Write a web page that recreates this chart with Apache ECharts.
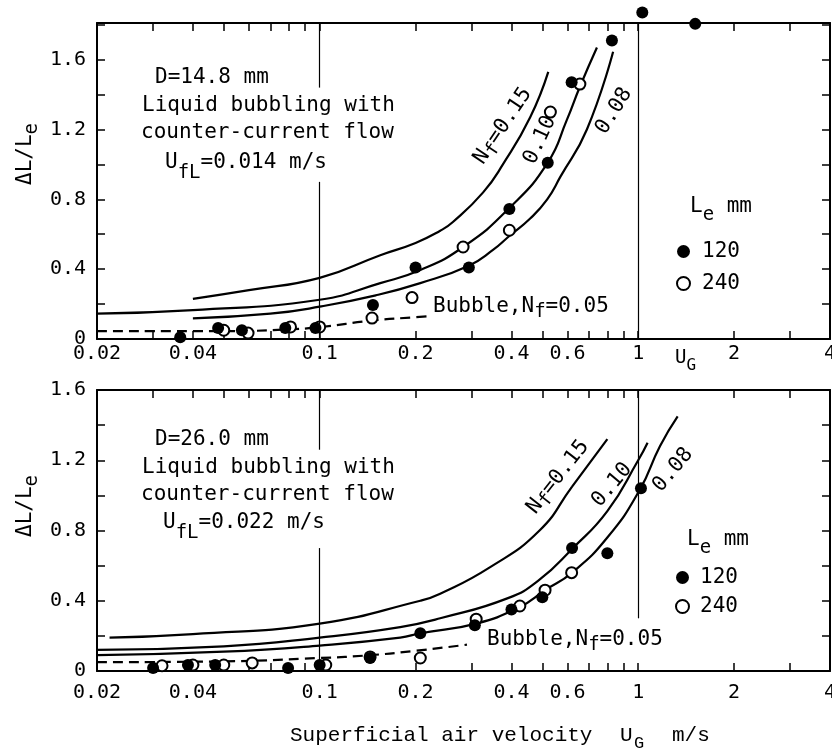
<!DOCTYPE html>
<html>
<head>
<meta charset="utf-8">
<script src="https://cdn.jsdelivr.net/npm/echarts@6/dist/echarts.min.js"></script>
<style>
  html, body { margin: 0; padding: 0; background: #fff; }
  #chart { width: 832px; height: 750px; }
</style>
</head>
<body>
<div id="chart"></div>
<script>
// values: x = U_G (m/s), y = dL/Le

// upper panel, D = 14.8 mm
var topNf15X = [0.04, 0.06, 0.1, 0.155, 0.2, 0.239, 0.262, 0.326, 0.376, 0.458, 0.522];
var topNf15Y = [0.23, 0.28, 0.35, 0.48, 0.55, 0.62, 0.67, 0.84, 1.0, 1.27, 1.53];
var topNf10X = [0.02, 0.04, 0.1, 0.155, 0.207, 0.282, 0.394, 0.52, 0.597, 0.656, 0.742];
var topNf10Y = [0.145, 0.165, 0.225, 0.32, 0.395, 0.527, 0.75, 1.01, 1.255, 1.445, 1.67];
var topNf08X = [0.04, 0.07, 0.1, 0.15, 0.207, 0.294, 0.35, 0.394, 0.458, 0.518, 0.57, 0.69, 0.834];
var topNf08Y = [0.118, 0.145, 0.185, 0.25, 0.32, 0.42, 0.51, 0.59, 0.69, 0.80, 0.93, 1.20, 1.645];
var topBubbleX = [0.02, 0.05, 0.08, 0.1, 0.146, 0.2, 0.22];
var topBubbleY = [0.045, 0.045, 0.055, 0.068, 0.105, 0.125, 0.13];
var top120X = [0.0365, 0.048, 0.057, 0.078, 0.097, 0.147, 0.2, 0.294, 0.394, 0.52, 0.618, 0.827, 1.03, 1.51];
var top120Y = [0.01, 0.063, 0.05, 0.063, 0.063, 0.195, 0.41, 0.41, 0.745, 1.01, 1.47, 1.71, 1.87, 1.805];
var top240X = [0.05, 0.0596, 0.081, 0.1, 0.146, 0.195, 0.282, 0.394, 0.53, 0.656];
var top240Y = [0.05, 0.034, 0.069, 0.069, 0.12, 0.237, 0.527, 0.623, 1.30, 1.46];

// lower panel, D = 26.0 mm
var botNf15X = [0.0219, 0.04, 0.1, 0.207, 0.239, 0.342, 0.49, 0.62, 0.80];
var botNf15Y = [0.19, 0.21, 0.27, 0.40, 0.44, 0.59, 0.80, 1.05, 1.32];
var botNf10X = [0.02, 0.05, 0.1, 0.179, 0.239, 0.39, 0.49, 0.62, 0.8, 1.0, 1.07];
var botNf10Y = [0.12, 0.14, 0.19, 0.25, 0.30, 0.415, 0.52, 0.695, 0.91, 1.2, 1.30];
var botNf08X = [0.02, 0.05, 0.1, 0.179, 0.207, 0.31, 0.425, 0.51, 0.62, 0.80, 1.01, 1.17, 1.33];
var botNf08Y = [0.09, 0.11, 0.145, 0.19, 0.215, 0.27, 0.365, 0.46, 0.56, 0.76, 1.03, 1.28, 1.45];
var botBubbleX = [0.02, 0.05, 0.1, 0.144, 0.2, 0.29];
var botBubbleY = [0.05, 0.055, 0.074, 0.09, 0.115, 0.15];
var bot120X = [0.03, 0.0386, 0.047, 0.0796, 0.1, 0.144, 0.207, 0.307, 0.40, 0.50, 0.62, 0.80, 1.02];
var bot120Y = [0.017, 0.034, 0.034, 0.017, 0.034, 0.074, 0.215, 0.26, 0.35, 0.42, 0.70, 0.67, 1.04];
var bot240X = [0.032, 0.040, 0.05, 0.0614, 0.1045, 0.144, 0.207, 0.31, 0.425, 0.51, 0.618];
var bot240Y = [0.03, 0.034, 0.034, 0.046, 0.034, 0.08, 0.074, 0.295, 0.37, 0.46, 0.56];

// axis ticks / labels
var xTickVals = [0.02, 0.03, 0.04, 0.05, 0.06, 0.07, 0.08, 0.09, 0.1, 0.2, 0.3, 0.4, 0.5, 0.6, 0.7, 0.8, 0.9, 1, 2, 3, 4];
var xLabelVals = [0.02, 0.04, 0.1, 0.2, 0.4, 0.6, 1, 2, 4];
var topYMax = 1.81, botYMax = 1.6;

var MONO = 'DejaVu Sans Mono';
var COURIER = 'Liberation Mono';

function pairs(xs, ys) {
  return xs.map(function (x, i) { return [x, ys[i]]; });
}

function xAxisFor(grid, pos, margin) {
  return {
    type: 'log', gridIndex: grid, position: pos, min: 0.02, max: 4,
    axisLine: { show: true, onZero: false, lineStyle: { color: '#000', width: 2 } },
    axisTick: { show: true, inside: true, length: 8, customValues: xTickVals, lineStyle: { color: '#000', width: 1.5 } },
    axisLabel: {
      show: pos === 'bottom', customValues: xLabelVals, margin: margin, hideOverlap: false,
      color: '#000', fontFamily: MONO, fontSize: 20,
      formatter: function (v) { return String(+(+v).toPrecision(3)); }
    },
    splitLine: { show: false }
  };
}

function yAxisFor(grid, pos, max) {
  return {
    type: 'value', gridIndex: grid, position: pos, min: 0, max: max, interval: 0.2,
    axisLine: { show: true, onZero: false, lineStyle: { color: '#000', width: 2 } },
    axisTick: { show: true, inside: true, length: 8, lineStyle: { color: '#000', width: 1.5 } },
    axisLabel: {
      show: pos === 'left', margin: 11, color: '#000', fontFamily: MONO, fontSize: 20,
      formatter: function (v) { return Math.round(v * 10) % 4 === 0 ? String(+v.toFixed(1)) : ''; }
    },
    splitLine: { show: false }
  };
}

function curve(g, xs, ys, dashed, marks) {
  var s = {
    type: 'line', xAxisIndex: g * 2, yAxisIndex: g * 2, data: pairs(xs, ys),
    smooth: 0.5, showSymbol: false, symbol: 'none', silent: true, z: 2,
    lineStyle: { color: '#000', width: 2.2, type: dashed ? [10, 6] : 'solid' }
  };
  if (marks) {
    s.markLine = {
      silent: true, symbol: 'none', label: { show: false },
      lineStyle: { color: '#000', width: 1.2, type: 'solid' },
      data: marks.map(function (m) { return [{ coord: m[0] }, { coord: m[1] }]; })
    };
  }
  return s;
}

function dots(g, name, xs, ys, filled) {
  return {
    type: 'scatter', name: name, xAxisIndex: g * 2, yAxisIndex: g * 2, data: pairs(xs, ys),
    symbol: 'circle', symbolSize: filled ? 12 : 11, clip: false, z: filled ? 4 : 3,
    itemStyle: filled ? { color: '#000', opacity: 1 } : { color: '#fff', borderColor: '#000', borderWidth: 2, opacity: 1 }
  };
}

// text helpers: parts = [text, fontSize, dy]
function txt(x, y, s, size, font) {
  return { type: 'text', x: x, y: y, silent: true,
    style: { text: s, fontFamily: font || MONO, fontSize: size || 21, fill: '#000', verticalAlign: 'middle', align: 'left' } };
}
function run(x, y, parts, deg, centered, font) {
  var cw = font === COURIER ? 0.6 : 0.602;
  var w = 0;
  parts.forEach(function (p) { w += p[0].length * cw * (p[1] || 21); });
  var cx = centered ? -w / 2 : 0, kids = [];
  parts.forEach(function (p) {
    var size = p[1] || 21;
    kids.push(txt(cx, p[2] || 0, p[0], size, font));
    cx += p[0].length * cw * size;
  });
  return { type: 'group', x: x, y: y, rotation: (deg || 0) * Math.PI / 180, children: kids };
}

var graphics = [
  // upper panel notes
  txt(155, 78, 'D=14.8 mm'),
  txt(142, 106, 'Liquid bubbling with'),
  txt(141, 133, 'counter-current flow'),
  run(165, 163, [['U'], ['fL', 19, 10], ['=0.014 m/s']]),
  run(503, 126, [['N'], ['f', 19, 5], ['=0.15']], 56, true),
  run(540, 140, [['0.10']], 65, true),
  run(614, 111, [['0.08']], 58, true),
  run(433, 307, [['Bubble,N'], ['f', 19, 5], ['=0.05']]),
  run(690, 207, [['L'], ['e', 19, 8], [' mm']]),
  run(675, 358, [['U', 19], ['G', 16, 8]]),
  run(26, 154, [['ΔL/L'], ['e', 19, 6]], 90, true),
  // lower panel notes
  txt(155, 440, 'D=26.0 mm'),
  txt(142, 468, 'Liquid bubbling with'),
  txt(141, 495, 'counter-current flow'),
  run(163, 523, [['U'], ['fL', 19, 10], ['=0.022 m/s']]),
  run(558, 477, [['N'], ['f', 19, 5], ['=0.15']], 52, true),
  run(612, 485, [['0.10']], 50, true),
  run(673, 470, [['0.08']], 50, true),
  run(487, 640, [['Bubble,N'], ['f', 19, 5], ['=0.05']]),
  run(687, 540, [['L'], ['e', 19, 8], [' mm']]),
  run(26, 506, [['ΔL/L'], ['e', 19, 6]], 90, true),
  // x title
  txt(290, 735, 'Superficial air velocity', 21, COURIER),
  txt(620, 735, 'U', 21, COURIER),
  txt(634, 743, 'G', 17, COURIER),
  txt(672, 735, 'm/s', 21, COURIER)
];

var legendBase = {
  data: ['120', '240'], orient: 'vertical', icon: 'circle', selectedMode: false,
  itemWidth: 13, itemHeight: 13, padding: 0
};

var option = {
  animation: false,
  backgroundColor: '#fff',
  grid: [
    { left: 97, top: 23, width: 733, height: 316, outerBoundsMode: 'none' },
    { left: 97, top: 390, width: 733, height: 281, outerBoundsMode: 'none' }
  ],
  xAxis: [xAxisFor(0, 'bottom', 5), xAxisFor(0, 'top', 5), xAxisFor(1, 'bottom', 12), xAxisFor(1, 'top', 12)],
  yAxis: [yAxisFor(0, 'left', topYMax), yAxisFor(0, 'right', topYMax), yAxisFor(1, 'left', botYMax), yAxisFor(1, 'right', botYMax)],
  legend: [
    Object.assign({}, legendBase, { left: 676, top: 241, itemGap: 11,
      textStyle: { fontFamily: MONO, fontSize: 21, color: '#000', padding: [0, 0, 0, 7] } }),
    Object.assign({}, legendBase, { left: 675, top: 567, itemGap: 8,
      textStyle: { fontFamily: MONO, fontSize: 21, color: '#000', padding: [0, 0, 0, 6] } })
  ],
  graphic: graphics,
  series: [
    curve(0, topNf15X, topNf15Y),
    curve(0, topNf10X, topNf10Y),
    curve(0, topNf08X, topNf08Y),
    curve(0, topBubbleX, topBubbleY, true, [
      [[0.1, topYMax], [0.1, 1.44]], [[0.1, 0.9], [0.1, 0]], [[1, 0], [1, topYMax]]
    ]),
    dots(0, '240', top240X, top240Y, false),
    dots(0, '120', top120X, top120Y, true),
    curve(1, botNf15X, botNf15Y),
    curve(1, botNf10X, botNf10Y),
    curve(1, botNf08X, botNf08Y),
    curve(1, botBubbleX, botBubbleY, true, [
      [[0.1, botYMax], [0.1, 1.26]], [[0.1, 0.70], [0.1, 0]], [[1, botYMax], [1, 0.30]]
    ]),
    dots(1, '240', bot240X, bot240Y, false),
    dots(1, '120', bot120X, bot120Y, true)
  ]
};

var chart = echarts.init(document.getElementById('chart'));
chart.setOption(option);
window.addEventListener('resize', function () { chart.resize(); });
</script>
</body>
</html>
